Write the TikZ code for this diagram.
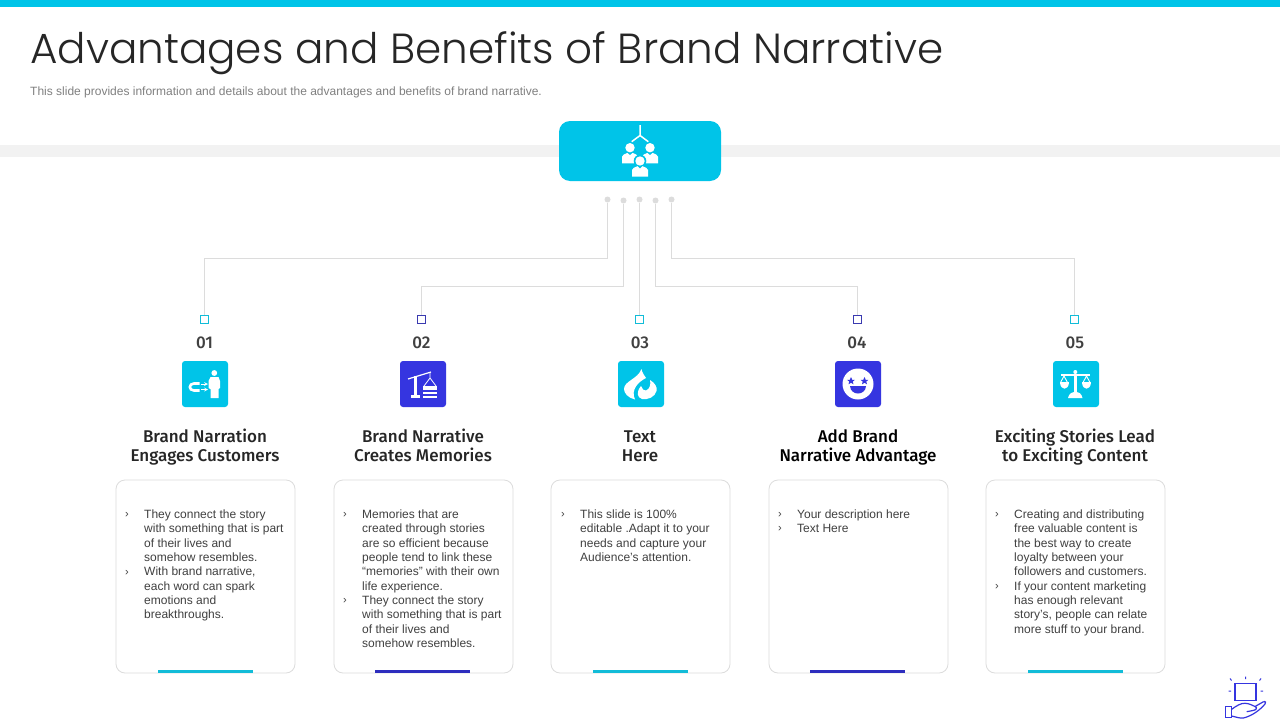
\documentclass[tikz,border=0pt]{standalone}
\usepackage{fontspec}
\setmainfont{Liberation Sans}
\newfontfamily\titlefont{Poppins Light}
\newfontfamily\headfont{Fira Sans Medium}
\definecolor{cy}{HTML}{00C4E8}
\definecolor{cyb}{HTML}{12BCD8}
\definecolor{bl}{HTML}{3535E0}
\definecolor{sqb}{HTML}{3A3AB0}
\definecolor{ln}{HTML}{DCDCDC}
\definecolor{band}{HTML}{F2F2F2}
\definecolor{txt}{HTML}{404040}
\tikzset{
  dotn/.style={circle,fill=ln,draw=none,minimum size=6pt,inner sep=0pt},
  conn/.style={draw=ln,line width=0.9pt},
  sq/.style={draw=none,fill=#1,minimum size=9pt,inner sep=0pt},
  num/.style={font=\headfont\fontsize{17}{18}\selectfont,text=txt,inner sep=0pt},
  iconbox/.style={fill=#1,draw=none,rounded corners=3pt,minimum size=46pt,inner sep=0pt},
  head/.style={font=\headfont\fontsize{17}{19}\selectfont,text=#1,align=center,inner sep=0pt,text height=13pt,text depth=4pt},
  card/.style={draw=ln,fill=white,line width=0.8pt,rounded corners=9pt,minimum width=179pt,minimum height=193pt,inner sep=0pt},
  body/.style={font=\fontsize{12}{14.3}\selectfont,text=txt,align=left,anchor=north west,inner sep=0pt},
  bul/.style={font=\fontsize{11}{12}\selectfont,text=txt,inner sep=0pt},
  wl/.style={draw=white,line width=#1},
  logo/.style={draw=bl,line width=1.2pt}
}
\newcommand{\heroperson}[2]{%
  \fill[white] (#1,#2) circle (4.7);
  \fill[white] (#1-8,#2+15.7) -- (#1-8,#2+9) .. controls (#1-8,#2+7) and (#1-5,#2+6.3) .. (#1-2.5,#2+5.2) -- (#1,#2+7.5) -- (#1+2.5,#2+5.2) .. controls (#1+5,#2+6.3) and (#1+8,#2+7) .. (#1+8,#2+9) -- (#1+8,#2+15.7) -- cycle;
}
\newcommand{\starat}[2]{%
  \fill[bl] (#1,#2-4) -- (#1+1.2,#2-1.2) -- (#1+3.9,#2-1.2) -- (#1+1.8,#2+0.6) -- (#1+2.5,#2+3.3) -- (#1,#2+1.8) -- (#1-2.5,#2+3.3) -- (#1-1.8,#2+0.6) -- (#1-3.9,#2-1.2) -- (#1-1.2,#2-1.2) -- cycle;
}
\newcommand{\sqhole}[1]{\fill[white] ($(#1)+(-3.4,-3.4)$) rectangle ($(#1)+(3.4,3.4)$);}
\usetikzlibrary{calc}
\begin{document}
\begin{tikzpicture}[x=1pt,y=-1pt]
\useasboundingbox (0,0) rectangle (1280,720);
\fill[white] (0,0) rectangle (1280,720);
\fill[cy] (0,0) rectangle (1280,7);
\fill[band] (0,145) rectangle (1280,157);
\node[anchor=base west,inner sep=0pt,text=black!85,font=\titlefont\fontsize{42.1}{50}\selectfont] (title) at (30,63) {Advantages and Benefits of Brand Narrative};
\node[anchor=base west,inner sep=0pt,text=black!50,font=\fontsize{12}{14}\selectfont] (sub) at (30,95.6) {This slide provides information and details about the advantages and benefits of brand narrative.};
% hero
\node[fill=cy,draw=none,rounded corners=11pt,minimum width=162pt,minimum height=60pt,inner sep=0pt] (hero) at (640,151) {};
\draw[wl=1.5pt] (640,125) -- (640,135.5) (631.7,141.7) -- (640,135.5) -- (648.3,141.7);
\heroperson{630}{147.7}
\heroperson{650}{147.7}
\fill[cy] (640,161) circle (6.3);
\fill[cy] (630.5,165.5) rectangle (649.5,178);
\heroperson{640}{161}
% dots
\node[dotn] (d1) at (607.5,199.5) {};
\node[dotn] (d2) at (623.5,200.5) {};
\node[dotn] (d3) at (639.5,199.5) {};
\node[dotn] (d4) at (655.5,200.5) {};
\node[dotn] (d5) at (671.5,199.5) {};
% squares
\node[sq=cyb] (s1) at (204.5,319.5) {};
\node[sq=sqb] (s2) at (421.5,319.5) {};
\node[sq=cyb] (s3) at (639.5,319.5) {};
\node[sq=sqb] (s4) at (857.5,319.5) {};
\node[sq=cyb] (s5) at (1074.5,319.5) {};
\sqhole{s1}\sqhole{s2}\sqhole{s3}\sqhole{s4}\sqhole{s5}
% connectors
\path[conn] (d1) |- (s1 |- 0,258.5) -- (s1);
\path[conn] (d2) |- (s2 |- 0,286.5) -- (s2);
\path[conn] (d3) -- (d3 |- s3.north);
\path[conn] (d4) |- (s4 |- 0,286.5) -- (s4);
\path[conn] (d5) |- (s5 |- 0,258.5) -- (s5);
% numbers
\node[num] (n1) at (204.5,342.5) {01};
\node[num] (n2) at (421.5,342.5) {02};
\node[num] (n3) at (640,342.5) {03};
\node[num] (n4) at (857,342.5) {04};
\node[num] (n5) at (1075,342.5) {05};
% icon boxes
\node[iconbox=cy] (i1) at (205,384) {};
\node[iconbox=bl] (i2) at (423,384) {};
\node[iconbox=cy] (i3) at (641,384) {};
\node[iconbox=bl] (i4) at (858,384) {};
\node[iconbox=cy] (i5) at (1076,384) {};
% icon 1
\fill[white] (214.3,373) circle (2.9);
\fill[white] (208.5,381) -- (210.5,377) -- (218.5,377) -- (220,381) -- (220,388) -- (218.5,389) -- (218.5,398) -- (210.5,398) -- (210.5,389) -- (208.5,388) -- cycle;
\draw[white,line width=2.6pt] (199.5,383.5) -- (194,383.5) .. controls (188.5,383.5) and (188.5,390.5) .. (194,390.5) -- (199.5,390.5);
\draw[white,line width=0.7pt,-stealth] (200.5,384) -- (208,384);
\draw[white,line width=0.7pt,-stealth] (200.5,389.5) -- (208,389.5);
% icon 2
\draw[white,line width=1.2pt] (408,379) -- (431,372);
\fill[white] (414,376) rectangle (416.6,396);
\fill[white] (411,394.5) rectangle (420,398);
\draw[white,line width=0.8pt] (430,372) -- (430,378) (430,378) -- (424,386) (430,378) -- (436,386);
\fill[white] (423,386) rectangle (437,390);
\fill[white] (423,391.5) rectangle (437,394);
\fill[white] (423,395.5) rectangle (437,398);
% icon 3
\fill[white] (641.5,369) .. controls (642,373) and (645,376) .. (646,378) .. controls (638,382) and (630.5,390) .. (635,399.5) .. controls (628,398) and (624,393) .. (624,389) .. controls (624,381) and (638,379) .. (641.5,369) -- cycle;
\fill[white] (650,380) .. controls (655,383) and (657.5,387) .. (656.5,391) .. controls (655,397) and (648,400) .. (642,399) .. controls (637,397.5) and (636,392) .. (641,386) .. controls (642,389) and (644,391) .. (646,390.5) .. controls (650,389) and (651,384) .. (650,380) -- cycle;
% icon 4
\fill[white] (858,384) circle (15.5);
\starat{851}{381}
\starat{864.5}{381}
\fill[bl] (850,386) -- (866,386) .. controls (865.5,396) and (850.5,396) .. (850,386) -- cycle;
% icon 5
\draw[white,line width=1.8pt] (1061,375) -- (1090,375);
\fill[white] (1075.3,372) circle (2);
\fill[white] (1074,374) rectangle (1076.6,392);
\fill[white] (1068,398) .. controls (1069,393.5) and (1072,392) .. (1075.3,392) .. controls (1079,392) and (1081.5,393.5) .. (1082.5,398) -- cycle;
\draw[white,line width=0.9pt] (1060.5,382.5) -- (1064,376) -- (1067.5,382.5) (1083,382.5) -- (1086.5,376) -- (1090,382.5);
\fill[white] (1059.5,382) -- (1068.5,382) .. controls (1068.5,391) and (1059.5,391) .. (1059.5,382) -- cycle;
\fill[white] (1082,382) -- (1091,382) .. controls (1091,391) and (1082,391) .. (1082,382) -- cycle;
% headings
\node[head=black!85] (h1) at (205,456.5) {Brand Narration\\Engages Customers};
\node[head=black!85] (h2) at (423,456.5) {Brand Narrative\\Creates Memories};
\node[head=black!85] (h3) at (640,456.5) {Text\\Here};
\node[head=black] (h4) at (858,456.5) {Add Brand\\Narrative Advantage};
\node[head=black!85] (h5) at (1075,456.5) {Exciting Stories Lead\\to Exciting Content};
% cards
\node[card] (c1) at (205.5,576.5) {};
\node[card] (c2) at (423.5,576.5) {};
\node[card] (c3) at (640.5,576.5) {};
\node[card] (c4) at (858.5,576.5) {};
\node[card] (c5) at (1075.5,576.5) {};
\fill[cyb] (158,670) rectangle (253,673);
\fill[bl!85!black] (375,670) rectangle (470,673);
\fill[cyb] (593,670) rectangle (688,673);
\fill[bl!85!black] (810,670) rectangle (905,673);
\fill[cyb] (1028,670) rectangle (1123,673);
% body text
\node[body] (t1) at (144,509.7) {They connect the story\\with something that is part\\of their lives and\\somehow resembles.\\With brand narrative,\\each word can spark\\emotions and\\breakthroughs.};
\node[body] (t2) at (362,509.7) {Memories that are\\created through stories\\are so efficient because\\people tend to link these\\“memories” with their own\\life experience.\\They connect the story\\with something that is part\\of their lives and\\somehow resembles.};
\node[body] (t3) at (580,509.7) {This slide is 100\%\\editable .Adapt it to your\\needs and capture your\\Audience’s attention.};
\node[body] (t4) at (797,509.7) {Your description here\\Text Here};
\node[body] (t5) at (1014,509.7) {Creating and distributing\\free valuable content is\\the best way to create\\loyalty between your\\followers and customers.\\If your content marketing\\has enough relevant\\story’s, people can relate\\more stuff to your brand.};
% bullets
\node[bul] (b11) at (127,515) {›};
\node[bul] (b12) at (127,572.5) {›};
\node[bul] (b21) at (345,515) {›};
\node[bul] (b22) at (345,601) {›};
\node[bul] (b31) at (563,515) {›};
\node[bul] (b41) at (780,515) {›};
\node[bul] (b42) at (780,529) {›};
\node[bul] (b51) at (997,515) {›};
\node[bul] (b52) at (997,586.5) {›};
% logo
\draw[logo] (1235,683.3) rectangle (1256,700.7);
\draw[logo,line width=1pt] (1228.5,691) -- (1231,691) (1260.5,691) -- (1263,691) (1245.5,676.5) -- (1245.5,679) (1230,678.5) -- (1231.5,680.5) (1261,678.5) -- (1259.5,680.5);
\draw[logo] (1225.7,706.7) rectangle (1231.7,717.7);
\draw[logo] (1231.7,709.3) .. controls (1236,706) and (1241,703) .. (1245,703.3) .. controls (1249,703.5) and (1252,705) .. (1255,706.5) .. controls (1258,708) and (1256,710) .. (1253,710.5) -- (1246.7,711.7) (1255,706.5) -- (1263,702) .. controls (1266,700.5) and (1266,703) .. (1265,704) .. controls (1260,710) and (1252,716) .. (1243.3,718) .. controls (1240,718.5) and (1236,717) .. (1231.7,716);
\end{tikzpicture}
\end{document}
